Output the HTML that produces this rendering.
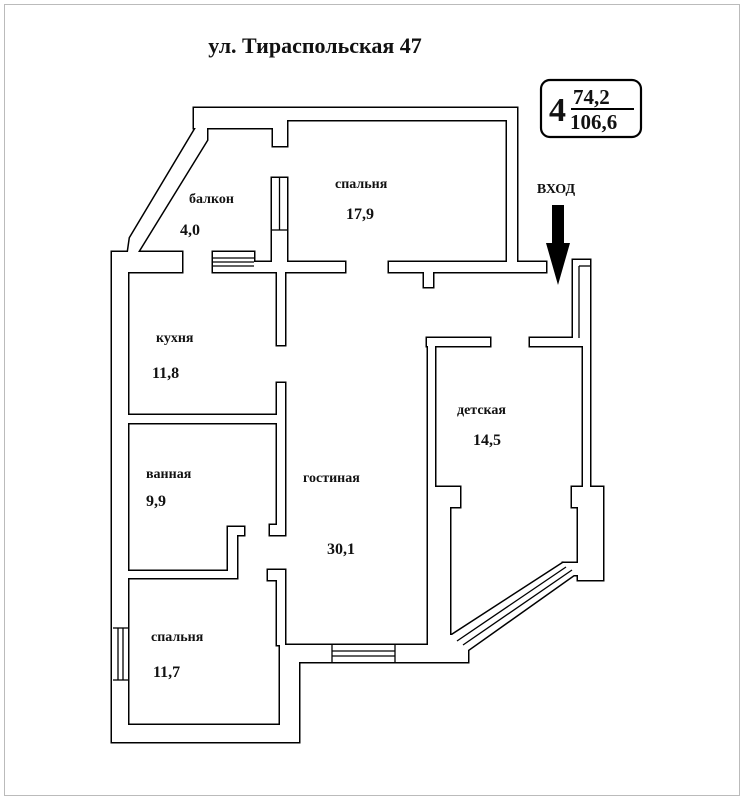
<!DOCTYPE html>
<html><head><meta charset="utf-8"><style>
html,body{margin:0;padding:0;background:#fff;}
svg{display:block;}
text{font-family:"Liberation Serif",serif;font-weight:bold;fill:#111;}
</style></head><body>
<svg width="744" height="800" viewBox="0 0 744 800" xmlns="http://www.w3.org/2000/svg">
<rect x="4.5" y="4.5" width="735" height="791" fill="none" stroke="#bbb" stroke-width="1"/>
<defs>
<g id="w">
<rect x="194" y="108" width="323" height="12"/>
<rect x="194" y="108" width="93" height="20"/>
<rect x="273" y="108" width="14" height="38"/>
<rect x="507" y="108" width="10" height="164"/>
<rect x="389" y="262" width="157" height="10"/>
<rect x="424" y="262" width="9" height="25"/>
<rect x="272" y="178" width="15" height="94"/>
<rect x="272" y="262" width="73" height="10"/>
<rect x="277" y="262" width="8" height="83"/>
<rect x="213" y="252" width="41" height="20"/>
<rect x="254" y="262" width="23" height="10"/>
<rect x="112" y="252" width="70" height="20"/>
<rect x="112" y="252" width="16" height="490"/>
<rect x="112" y="725" width="187" height="17"/>
<rect x="280" y="662" width="19" height="80"/>
<rect x="280" y="645" width="170" height="17"/>
<rect x="428" y="338" width="7" height="307"/>
<rect x="427" y="338" width="63" height="8"/>
<rect x="428" y="487" width="32" height="20"/>
<rect x="428" y="507" width="22" height="155"/>
<rect x="530" y="338" width="60" height="8"/>
<rect x="573" y="260" width="17" height="78"/>
<rect x="583" y="338" width="7" height="149"/>
<rect x="578" y="487" width="25" height="93"/>
<rect x="572" y="487" width="11" height="20"/>
<rect x="563" y="563" width="15" height="12"/>
<polygon points="563,563 578,572 468,650 452,635"/>
<rect x="450" y="635" width="18" height="27"/>
<rect x="128" y="415" width="149" height="8"/>
<rect x="277" y="383" width="8" height="152"/>
<rect x="270" y="525" width="15" height="10"/>
<rect x="277" y="570" width="8" height="75"/>
<rect x="268" y="570" width="17" height="10"/>
<rect x="128" y="571" width="109" height="7"/>
<rect x="228" y="527" width="9" height="51"/>
<rect x="228" y="527" width="16" height="8"/>
<polygon points="197,126 207,126 207,140 138,252 128,252 130,238"/>
</g>
</defs>
<use href="#w" fill="#000" stroke="#000" stroke-width="3"/>
<use href="#w" fill="#fff"/>
<g stroke="#000" stroke-width="1.3" fill="none">
<line x1="213" y1="258" x2="254" y2="258"/><line x1="213" y1="262" x2="254" y2="262"/><line x1="213" y1="266" x2="254" y2="266"/>
<line x1="279.5" y1="178" x2="279.5" y2="230"/><line x1="272" y1="230" x2="287" y2="230"/>
<line x1="332" y1="645" x2="332" y2="662"/><line x1="395" y1="645" x2="395" y2="662"/>
<line x1="332" y1="651" x2="395" y2="651"/><line x1="332" y1="656" x2="395" y2="656"/>
<line x1="113" y1="628" x2="128" y2="628"/><line x1="113" y1="680" x2="128" y2="680"/>
<line x1="118" y1="628" x2="118" y2="680"/><line x1="123" y1="628" x2="123" y2="680"/>
<line x1="579" y1="266" x2="579" y2="338"/><line x1="579" y1="266" x2="590" y2="266"/>
<line x1="566" y1="567" x2="457" y2="641"/><line x1="572" y1="570" x2="463" y2="645"/>
</g>
<text x="315" y="53" font-size="22" text-anchor="middle">ул. Тираспольская 47</text>
<rect x="541" y="80" width="100" height="57" rx="9" fill="none" stroke="#000" stroke-width="2.2"/>
<text x="549" y="121" font-size="34">4</text>
<text x="573" y="104" font-size="21">74,2</text>
<line x1="571" y1="109" x2="634" y2="109" stroke="#000" stroke-width="2"/>
<text x="570" y="129" font-size="21">106,6</text>
<text x="556" y="193" font-size="14" text-anchor="middle">ВХОД</text>
<polygon points="552,205 564,205 564,243 570,243 558,285 546,243 552,243" fill="#000"/>
<g font-size="14">
<text x="189" y="203">балкон</text>
<text x="335" y="188">спальня</text>
<text x="156" y="342">кухня</text>
<text x="457" y="414">детская</text>
<text x="146" y="478">ванная</text>
<text x="303" y="482">гостиная</text>
<text x="151" y="641">спальня</text>
</g>
<g font-size="16">
<text x="180" y="235">4,0</text>
<text x="346" y="219">17,9</text>
<text x="152" y="378">11,8</text>
<text x="473" y="445">14,5</text>
<text x="146" y="506">9,9</text>
<text x="327" y="554">30,1</text>
<text x="153" y="677">11,7</text>
</g>
</svg>
</body></html>
